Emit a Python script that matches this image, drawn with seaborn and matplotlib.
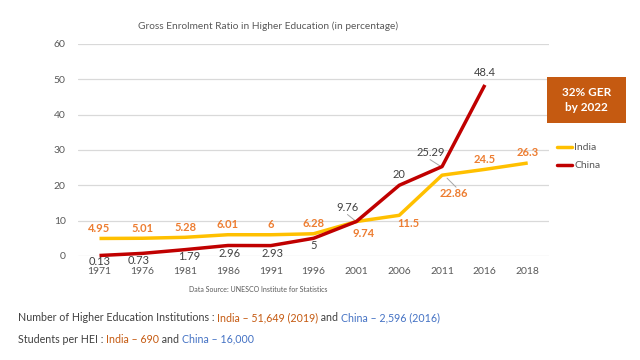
import matplotlib
matplotlib.use("Agg")
import matplotlib.pyplot as plt
import seaborn as sns
import pandas as pd
import numpy as np
from matplotlib.patches import Rectangle
from matplotlib.lines import Line2D

years = ["1971", "1976", "1981", "1986", "1991", "1996", "2001", "2006", "2011", "2016", "2018"]
india = [4.95, 5.01, 5.28, 6.01, 6, 6.28, 9.74, 11.5, 22.86, 24.5, 26.3]
china = [0.13, 0.73, 1.79, 2.96, 2.93, 5, 9.76, 20, 25.29, 48.4, None]
india_labels = ["4.95", "5.01", "5.28", "6.01", "6", "6.28", "9.74", "11.5", "22.86", "24.5", "26.3"]
china_labels = ["0.13", "0.73", "1.79", "2.96", "2.93", "5", "9.76", "20", "25.29", "48.4", ""]
yticks = [0, 10, 20, 30, 40, 50, 60]

sns.set_theme(style="white")
plt.rcParams["font.family"] = ["Lato", "DejaVu Sans"]

GOLD = "#FFC000"
RED = "#C00000"
ORANGE_TXT = "#ED7D31"
DARK = "#404040"
GRAY = "#595959"

df = pd.DataFrame({
    "Year": years * 2,
    "GER": india + china,
    "Country": ["India"] * len(years) + ["China"] * len(years),
}).dropna()

fig = plt.figure(figsize=(6.4, 3.6), dpi=100)
ax = fig.add_axes([0.122, 0.289, 0.736, 0.589])
sns.lineplot(data=df, x="Year", y="GER", hue="Country", palette={"India": GOLD, "China": RED},
             linewidth=2.5, sort=False, ax=ax, legend=False, clip_on=False)
for ln in ax.lines:
    ln.set_clip_on(False)
    ln.set_solid_capstyle("butt")

ax.set_xlim(-0.5, len(years) - 0.5)
ax.set_ylim(0, 60)
ax.set_yticks(yticks)
ax.yaxis.grid(True, color="#D9D9D9", linewidth=0.9)
ax.xaxis.grid(False)
for s in ax.spines.values():
    s.set_visible(False)
ax.set_xlabel("")
ax.set_ylabel("")
ax.tick_params(axis="both", length=0, labelsize=7.5, labelcolor=GRAY)
ax.tick_params(axis="y", pad=9)
ax.tick_params(axis="x", pad=8)

# label offsets (pixels)
ind_off = [(0, 10), (0, 10), (0, 10), (0, 10), (0, 10), (0, 10), (7, -12), (9, -8), (12, -18), (0, 10), (0, 11)]
chn_off = [(0, -6), (-4, -7), (4, -7), (2, -8), (2, -8), (0, -7), (-9, 14), (0, 11), (-11, 14), (0, 12), None]

for i, (v, lab) in enumerate(zip(india, india_labels)):
    dx, dy = ind_off[i]
    ax.annotate(lab, (i, v), xytext=(dx, dy), textcoords="offset pixels", ha="center", va="center",
                fontsize=8, color=ORANGE_TXT, fontweight="bold", annotation_clip=False)
for i, (v, lab) in enumerate(zip(china, china_labels)):
    if v is None:
        continue
    dx, dy = chn_off[i]
    ax.annotate(lab, (i, v), xytext=(dx, dy), textcoords="offset pixels", ha="center", va="center",
                fontsize=8, color=DARK, annotation_clip=False)

# leader lines
def leader(i, v, dx0, dy0, dx1, dy1):
    x0, y0 = ax.transData.transform((i, v))
    xs = [x0 + dx0, x0 + dx1]
    ys = [y0 + dy0, y0 + dy1]
    p = ax.transData.inverted().transform(np.column_stack([xs, ys]))
    ax.plot(p[:, 0], p[:, 1], color="#A6A6A6", linewidth=0.7, clip_on=False, zorder=1)

leader(6, china[6], -9, 7, 1, -1)
leader(8, china[8], -12, 7, -1, 0)
leader(8, india[8], 5, -3, 14, -12)

fig.text(0.419, 0.928, "Gross Enrolment Ratio in Higher Education (in percentage)", ha="center", va="center",
         fontsize=7.3, color=GRAY)

# legend
handles = [Line2D([0], [0], color=GOLD, lw=2.5), Line2D([0], [0], color=RED, lw=2.5)]
fig.legend(handles, ["India", "China"], loc="upper left", bbox_to_anchor=(0.871, 0.603), frameon=False,
           fontsize=7.5, labelcolor=GRAY, handlelength=1.4, handletextpad=0.2, labelspacing=0.85,
           borderaxespad=0, borderpad=0)

# orange box
fig.patches.append(Rectangle((0.855, 0.658), 0.123, 0.128, transform=fig.transFigure,
                             facecolor="#C55A11", edgecolor="none"))
fig.text(0.916, 0.722, "32% GER\nby 2022", ha="center", va="center", color="white", fontsize=8.5,
         fontweight="bold", linespacing=1.5)

fig.text(0.403, 0.197, "Data Source: UNESCO Institute for Statistics", ha="center", va="center",
         fontsize=5, color=GRAY)

renderer = fig.canvas.get_renderer()

def rich(x, y, parts, size):
    for s, c, w in parts:
        t = fig.text(x, y, s, color=c, fontweight=w, fontsize=size, va="center", ha="left")
        bb = t.get_window_extent(renderer)
        x += bb.width / fig.bbox.width

BLUE = "#4472C4"
BORANGE = "#C55A11"
rich(0.028, 0.117, [
    ("Number of Higher Education Institutions : ", DARK, "normal"),
    ("India – 51,649 (2019)", BORANGE, "normal"),
    (" and ", DARK, "normal"),
    ("China – 2,596 (2016)", BLUE, "normal"),
], 7.7)
rich(0.028, 0.058, [
    ("Students per HEI : ", DARK, "normal"),
    ("India – 690", BORANGE, "normal"),
    (" and ", DARK, "normal"),
    ("China – 16,000", BLUE, "normal"),
], 7.7)

fig.savefig("out.png", dpi=100, facecolor="white")
